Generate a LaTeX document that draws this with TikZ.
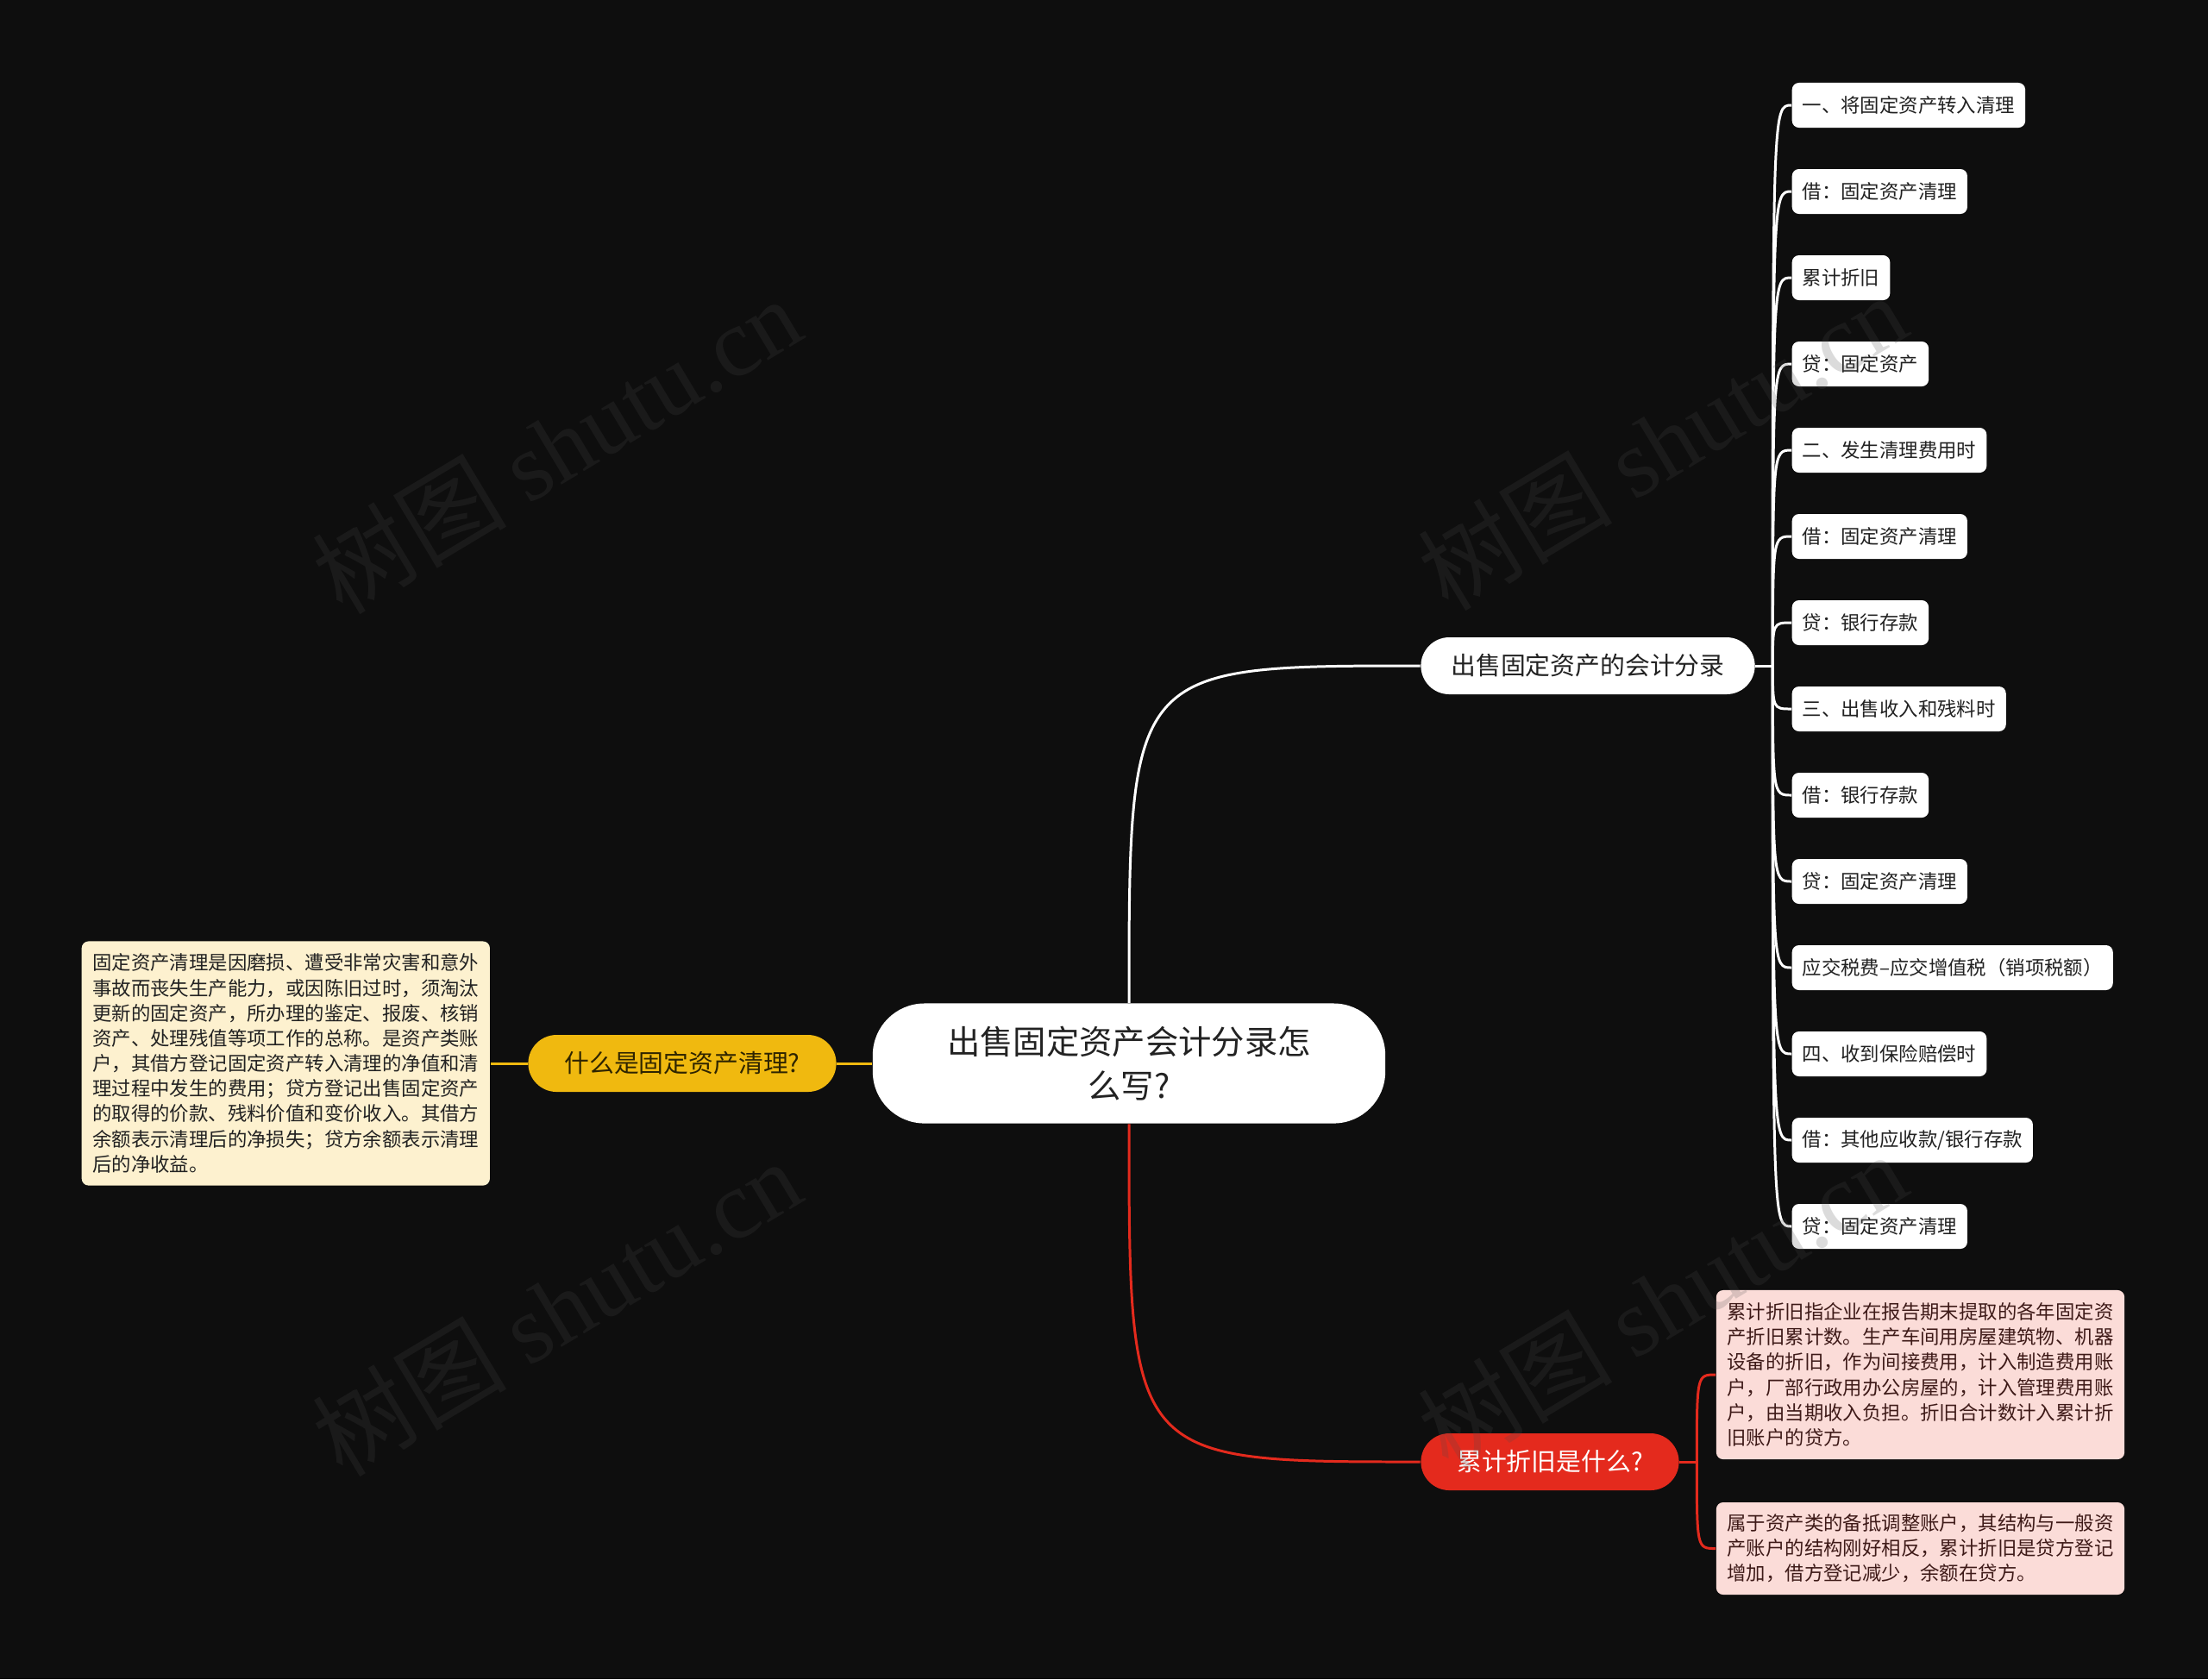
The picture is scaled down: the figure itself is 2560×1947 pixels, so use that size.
\documentclass[tikz,border=0pt]{standalone}
\usepackage{fontspec}
\setmainfont{Noto Sans CJK SC}
\newfontfamily\wmlatin{Liberation Serif}
\usepackage{xcolor}
\usepackage{tikz}
\usetikzlibrary{positioning}

\definecolor{bgdark}{HTML}{0E0E0E}
\definecolor{inkdark}{HTML}{222222}
\definecolor{amber}{HTML}{F0B90F}
\definecolor{amberink}{HTML}{2E2400}
\definecolor{cream}{HTML}{FDF1CF}
\definecolor{brickred}{HTML}{E42A1D}
\definecolor{blush}{HTML}{FBDCD8}
\definecolor{blushink}{HTML}{3E1A18}
\definecolor{wmgray}{HTML}{4C4C4C}

\begin{document}
\begin{tikzpicture}[
    x=0.01cm, y=-0.01cm,
    topic/.style={fill=white, text=inkdark, rounded corners=0.6cm, minimum width=5.94cm, minimum height=1.39cm, inner sep=0pt, align=center, font={\fontsize{10.9}{14.4}\selectfont}},
    branch/.style={rounded corners=0.33cm, minimum height=0.66cm, inner xsep=0.35cm, inner ysep=0pt, font={\fontsize{8.2}{10}\selectfont}},
    wbranch/.style={branch, fill=white, text=inkdark},
    ybranch/.style={branch, fill=amber, text=amberink},
    rbranch/.style={branch, fill=brickred, text=white},
    leaf/.style={fill=white, text=inkdark, rounded corners=0.08cm, minimum height=0.52cm, inner xsep=0.12cm, inner ysep=0pt, anchor=west, font={\fontsize{6.37}{8.3}\selectfont}},
    note/.style={rounded corners=0.08cm, inner sep=0pt, align=left, font={\fontsize{6.37}{8.3}\selectfont}},
    wire/.style={white, line width=0.85pt},
    ywire/.style={amber, line width=0.85pt},
    rwire/.style={brickred, line width=0.85pt},
    wmark/.style={text=wmgray, opacity=0.2, rotate=31, font={\fontsize{32}{38}\selectfont}},
]

% --- Background ---
\fill[bgdark] (0,0) rectangle (2560,1947);
\useasboundingbox (0,0) rectangle (2560,1947);

% --- Central topic ---
\node[topic] (topic) at (1309, 1233) {出售固定资产会计分录怎\\么写?};

% --- Main branches ---
\node[wbranch, minimum width=3.87cm] (entry) at (1841, 772) {出售固定资产的会计分录};
\node[ybranch, minimum width=3.57cm] (whatis) at (791, 1233) {什么是固定资产清理?};
\node[rbranch, minimum width=2.99cm] (deprec) at (1797, 1695) {累计折旧是什么?};

% --- Journal entry leaves ---
\foreach \i/\txt in {1/{一、将固定资产转入清理}, 2/{借：固定资产清理}, 3/{累计折旧},
                     4/{贷：固定资产}, 5/{二、发生清理费用时}, 6/{借：固定资产清理},
                     7/{贷：银行存款}, 8/{三、出售收入和残料时}, 9/{借：银行存款},
                     10/{贷：固定资产清理}, 11/{应交税费–应交增值税（销项税额）},
                     12/{四、收到保险赔偿时}, 13/{借：其他应收款/银行存款},
                     14/{贷：固定资产清理}} {
    \node[leaf] (e\i) at (2077, 22+\i*100) {\txt};
}

% --- Notes ---
\node[note, fill=cream, text=inkdark, minimum width=4.73cm, minimum height=2.83cm,
      left=0.43cm of whatis] (whatisnote) {%
固定资产清理是因磨损、遭受非常灾害和意外\\
事故而丧失生产能力，或因陈旧过时，须淘汰\\
更新的固定资产，所办理的鉴定、报废、核销\\
资产、处理残值等项工作的总称。是资产类账\\
户，其借方登记固定资产转入清理的净值和清\\
理过程中发生的费用；贷方登记出售固定资产\\
的取得的价款、残料价值和变价收入。其借方\\
余额表示清理后的净损失；贷方余额表示清理\\
后的净收益。};
\node[note, fill=blush, text=blushink, minimum width=4.73cm, minimum height=1.96cm]
      (depnote1) at (2226.5, 1594) {%
累计折旧指企业在报告期末提取的各年固定资\\
产折旧累计数。生产车间用房屋建筑物、机器\\
设备的折旧，作为间接费用，计入制造费用账\\
户，厂部行政用办公房屋的，计入管理费用账\\
户，由当期收入负担。折旧合计数计入累计折\\
旧账户的贷方。};
\node[note, fill=blush, text=blushink, minimum width=4.73cm, minimum height=1.07cm]
      (depnote2) at (2226.5, 1795.5) {%
属于资产类的备抵调整账户，其结构与一般资\\
产账户的结构刚好相反，累计折旧是贷方登记\\
增加，借方登记减少，余额在贷方。};

% --- Connections: topic -> branches ---
\draw[wire] (topic.north) .. controls (topic.north |- entry.west) .. (entry.west);
\draw[rwire] (topic.south) .. controls (topic.south |- deprec.west) .. (deprec.west);
\draw[ywire] (topic.west) -- (whatis.east);
\draw[ywire] (whatis.west) -- (whatisnote.east);

% --- Connections: entry -> leaves ---
\coordinate (entryJ) at ([xshift=0.2cm]entry.east);
\draw[wire] (entry.east) -- (entryJ);
\foreach \i in {1,...,14} {
    \draw[wire] (entryJ) .. controls (entryJ |- e\i.west) .. (e\i.west);
}

% --- Connections: deprec -> notes ---
\coordinate (deprecJ) at ([xshift=0.2cm]deprec.east);
\draw[rwire] (deprec.east) -- (deprecJ);
\foreach \n in {depnote1, depnote2} {
    \draw[rwire] (deprecJ) .. controls (deprecJ |- \n.west) .. (\n.west);
}

% --- Watermarks ---
\foreach \k/\wx/\wy in {1/645/516, 2/1927/512, 3/645/1516, 4/1927/1508} {
    \node[wmark] (wm\k) at (\wx, \wy) {树图 {\wmlatin shutu.cn}};
}

\end{tikzpicture}
\end{document}
